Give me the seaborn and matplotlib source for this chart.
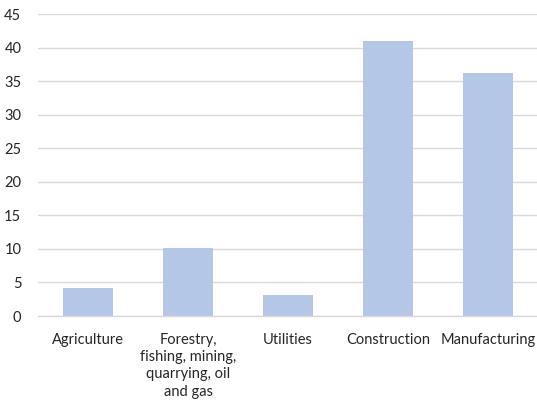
import matplotlib
matplotlib.use("Agg")
import matplotlib.pyplot as plt
import seaborn as sns
import pandas as pd

categories = ["Agriculture", "Forestry,\nfishing, mining,\nquarrying, oil\nand gas",
              "Utilities", "Construction", "Manufacturing"]
values = [4.2, 10.2, 3.1, 41.0, 36.2]
y_ticks = [0, 5, 10, 15, 20, 25, 30, 35, 40, 45]

sns.set_theme(style="white")
plt.rcParams["font.family"] = ["Lato", "DejaVu Sans"]

df = pd.DataFrame({"sector": categories, "value": values})

fig = plt.figure(figsize=(5.37, 4.03), dpi=100)
ax = fig.add_axes([38 / 537, 1 - 316 / 403, 500 / 537, (316 - 14) / 403])

ax.yaxis.grid(True, color="#D9D9D9", linewidth=1.0)
ax.set_axisbelow(True)

sns.barplot(data=df, x="sector", y="value", color="#B4C7E7", saturation=1,
            width=0.5, ax=ax, linewidth=0)

ax.set_ylim(0, 45)
ax.set_xlim(-0.5, 4.5)
ax.set_yticks(y_ticks)
ax.set_xlabel("")
ax.set_ylabel("")
for s in ["top", "right", "left"]:
    ax.spines[s].set_visible(False)
ax.spines["bottom"].set_color("#D9D9D9")
ax.spines["bottom"].set_linewidth(1.0)
ax.tick_params(axis="y", length=0, pad=12, labelsize=10.5, labelcolor="#262626")
ax.tick_params(axis="x", length=0, pad=12, labelsize=10.5, labelcolor="#262626")
for lbl in ax.get_xticklabels():
    lbl.set_linespacing(1.3)

fig.savefig("out.png", dpi=100)
